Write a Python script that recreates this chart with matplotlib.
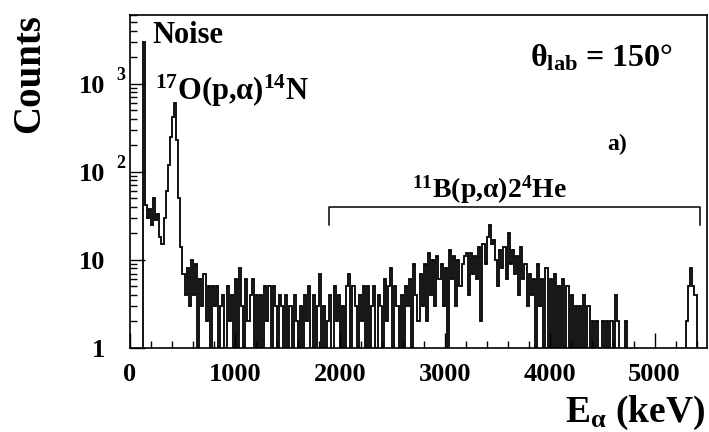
import matplotlib
matplotlib.use("Agg")
import matplotlib.pyplot as plt
import numpy as np

# alpha spectrum, 20 keV bins from 0 to 5500 keV (counts)
bin_width = 20
e_min, e_max = 0, 5500
counts = [
    0, 0, 0, 0, 0, 0, 3000, 42, 30, 38,          # 0-200
    25, 50, 28, 33, 18, 15, 30, 60, 120, 250,    # 200-400
    420, 600, 230, 50, 14, 7, 4, 8, 3, 10,       # 400-600
    4, 9, 1, 6, 3, 7, 2, 5, 1, 5,                # 600-800
    3, 5, 0, 3, 4, 1, 5, 2, 4, 0,                # 800-1000
    6, 1, 8, 3, 0, 6, 2, 4, 6, 0,                # 1000-1200
    4, 1, 4, 0, 5, 2, 5, 1, 5, 3,                # 1200-1400
    0, 4, 3, 1, 4, 0, 3, 1, 4, 2,                # 1400-1600
    1, 3, 0, 4, 2, 5, 0, 4, 1, 3,                # 1600-1800
    7, 0, 3, 1, 2, 4, 0, 5, 2, 4,                # 1800-2000
    1, 3, 0, 5, 7, 1, 5, 3, 0, 4,                # 2000-2200
    2, 5, 1, 5, 0, 3, 5, 1, 4, 3,                # 2200-2400
    0, 6, 2, 5, 8, 1, 5, 3, 0, 4,                # 2400-2600
    1, 5, 3, 6, 1, 9, 4, 2, 7, 3,                # 2600-2800
    9, 2, 12, 4, 10, 3, 11, 6, 9, 3,             # 2800-3000
    8, 0, 13, 6, 11, 3, 10, 5, 9, 11,            # 3000-3200
    12, 4, 12, 7, 11, 6, 14, 2, 15, 9,           # 3200-3400
    18, 25, 15, 17, 10, 5, 13, 8, 14, 6,         # 3400-3600
    20, 9, 13, 7, 11, 4, 14, 6, 9, 3,            # 3600-3800
    7, 4, 6, 0, 9, 3, 6, 0, 8, 1,                # 3800-4000
    6, 0, 7, 1, 5, 0, 6, 1, 5, 0,                # 4000-4200
    4, 1, 3, 0, 3, 1, 4, 0, 3, 0,                # 4200-4400
    2, 0, 2, 1, 0, 2, 0, 2, 0, 2,                # 4400-4600
    0, 4, 2, 0, 0, 0, 2, 0, 0, 0,                # 4600-4800
    0, 0, 0, 0, 0, 0, 0, 0, 0, 0,                # 4800-5000
    0, 0, 0, 0, 0, 0, 0, 0, 0, 0,                # 5000-5200
    0, 0, 0, 0, 0, 2, 5, 8, 5, 4,                # 5200-5400
    0, 0, 0, 0, 0,                               # 5400-5500
]
edges = np.arange(e_min, e_max + bin_width, bin_width)

ytick_vals = [1, 10, 100, 1000]
ytick_labels = ['1', '10', '10', '10']
ytick_sups = {100: '2', 1000: '3'}
xtick_vals = [0, 1000, 2000, 3000, 4000, 5000]

plt.rcParams['font.family'] = ['Liberation Serif', 'DejaVu Serif']
plt.rcParams['font.weight'] = 'bold'
plt.rcParams['mathtext.fontset'] = 'custom'
plt.rcParams['mathtext.rm'] = 'Liberation Serif:bold'
plt.rcParams['mathtext.it'] = 'Liberation Serif:bold'
plt.rcParams['mathtext.bf'] = 'Liberation Serif:bold'

fig = plt.figure(figsize=(7.09, 4.32), dpi=100)
ax = fig.add_axes([130/709, 84/432, 577/709, 333/432])

ax.stairs(counts, edges, color='black', lw=1.3)

ax.set_yscale('log', nonpositive='clip')
ax.set_xlim(e_min, e_max)
ax.set_ylim(1, 6000)

ax.set_xticks(xtick_vals)
ax.set_xticklabels([str(v) for v in xtick_vals], fontsize=19, fontweight='bold')
ax.xaxis.set_minor_locator(matplotlib.ticker.MultipleLocator(200))
ax.set_yticks(ytick_vals)
ax.set_yticklabels(ytick_labels, fontsize=19, fontweight='bold')
ax.yaxis.set_minor_locator(matplotlib.ticker.LogLocator(base=10, subs=np.arange(2, 10)))
ax.yaxis.set_minor_formatter(matplotlib.ticker.NullFormatter())
ax.tick_params(axis='both', which='major', direction='in', length=11, width=1)
ax.tick_params(axis='both', which='minor', direction='in', length=5, width=1)
ax.tick_params(axis='x', which='major', pad=11)
ax.tick_params(axis='y', which='major', pad=18)
for sp in ax.spines.values():
    sp.set_linewidth(1.2)

for val, sup in ytick_sups.items():
    ax.annotate(sup, xy=(0, val), xycoords=ax.get_yaxis_transform(),
                xytext=(-14, 4), textcoords='offset pixels',
                ha='left', va='baseline', fontsize=13, fontweight='bold')

# annotations
ax.text(0.038, 0.916, 'Noise', transform=ax.transAxes, fontsize=22,
        fontweight='bold', ha='left', va='baseline')
ax.text(0.043, 0.745, r'$^{17}$O(p,α)$^{14}$N', transform=ax.transAxes,
        fontsize=22, fontweight='bold', ha='left', va='baseline')
ax.text(0.693, 0.844, r'θ$_{\rm lab}$ = 150°', transform=ax.transAxes,
        fontsize=23, fontweight='bold', ha='left', va='baseline')
ax.text(0.827, 0.595, 'a)', transform=ax.transAxes, fontsize=17,
        fontweight='bold', ha='left', va='baseline')
ax.text(0.489, 0.453, r'$^{11}$B(p,α)2$^{4}$He', transform=ax.transAxes,
        fontsize=20, fontweight='bold', ha='left', va='baseline')

# bracket over the 11B(p,a) region
ax.plot([1900, 1900, 5430, 5430], [25, 40, 40, 25], color='black', lw=1.1)

fig.text(30/709, 1 - 74/432, 'Counts', rotation=90, fontsize=28,
         fontweight='bold', ha='center', va='center')
fig.text(705/709, 10/432, r'E$_{α}$ (keV)', fontsize=27, fontweight='bold',
         ha='right', va='baseline')

plt.savefig('out.png', dpi=100)
